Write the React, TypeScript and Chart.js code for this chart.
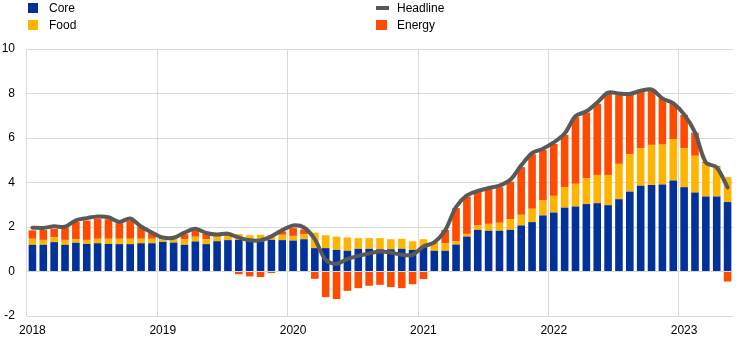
import React, { useEffect, useRef } from 'react';
import { Chart, registerables } from 'chart.js';

Chart.register(...registerables);

const years = ['2018', '2019', '2020', '2021', '2022', '2023'];
const monthsPerYear = 12;
const monthCount = 65; // Jan 2018 .. May 2023

const core = [
  1.20, 1.20, 1.32, 1.20, 1.29, 1.24, 1.27, 1.24, 1.23, 1.23, 1.27, 1.27,
  1.33, 1.30, 1.20, 1.35, 1.23, 1.36, 1.41, 1.42, 1.38, 1.35, 1.42, 1.41,
  1.39, 1.45, 1.05, 1.05, 0.97, 0.93, 1.02, 1.02, 1.00, 1.00, 1.02, 0.97,
  1.10, 0.93, 0.93, 1.21, 1.57, 1.87, 1.83, 1.83, 1.87, 2.07, 2.22, 2.52,
  2.65, 2.87, 2.92, 3.03, 3.07, 2.98, 3.25, 3.59, 3.85, 3.89, 3.91, 4.09,
  3.79, 3.55, 3.37, 3.37, 3.12,
];

const food = [
  0.27, 0.22, 0.22, 0.22, 0.16, 0.18, 0.20, 0.23, 0.24, 0.24, 0.20, 0.20,
  0.12, 0.15, 0.25, 0.21, 0.22, 0.21, 0.18, 0.26, 0.25, 0.30, 0.23, 0.24,
  0.21, 0.22, 0.70, 0.58, 0.60, 0.60, 0.48, 0.48, 0.50, 0.45, 0.45, 0.39,
  0.35, 0.32, 0.34, 0.15, 0.12, 0.20, 0.31, 0.36, 0.48, 0.48, 0.60, 0.67,
  0.75, 0.92, 1.02, 1.16, 1.27, 1.36, 1.59, 1.68, 1.69, 1.80, 1.79, 1.86,
  1.75, 1.65, 1.50, 1.32, 1.12,
];

const energy = [
  0.38, 0.45, 0.38, 0.56, 0.78, 0.87, 0.91, 0.88, 0.70, 0.82, 0.55, 0.30,
  0.05, 0.03, 0.23, 0.27, 0.24, 0.06, 0.08, -0.12, -0.22, -0.25, -0.07, 0.15,
  0.35, 0.22, -0.33, -1.15, -1.24, -0.87, -0.75, -0.64, -0.60, -0.70, -0.75, -0.57,
  -0.34, 0.05, 0.60, 1.49, 1.68, 1.52, 1.56, 1.60, 1.69, 2.14, 2.45, 2.27,
  2.33, 2.35, 3.00, 2.95, 3.20, 3.67, 3.09, 2.66, 2.54, 2.47, 2.09, 1.61,
  1.50, 1.04, 0.05, 0.05, -0.45,
];

const headline = [
  1.97, 1.96, 2.03, 2.01, 2.30, 2.40, 2.47, 2.44, 2.23, 2.38, 2.02, 1.75,
  1.53, 1.52, 1.75, 1.92, 1.73, 1.66, 1.70, 1.52, 1.40, 1.40, 1.58, 1.86,
  2.07, 1.98, 1.45, 0.52, 0.35, 0.56, 0.70, 0.81, 0.90, 0.85, 0.75, 0.75,
  1.12, 1.31, 1.85, 2.90, 3.42, 3.62, 3.75, 3.86, 4.12, 4.77, 5.32, 5.52,
  5.80, 6.20, 6.98, 7.20, 7.60, 8.04, 8.00, 7.98, 8.12, 8.18, 7.78, 7.56,
  7.06, 6.25, 4.90, 4.68, 3.78,
];

const yTicks = { min: -2, max: 10, step: 2 };

const labels: string[] = [];
for (let i = 0; i < monthCount; i++) {
  const y = years[Math.floor(i / monthsPerYear)];
  const m = (i % monthsPerYear) + 1;
  labels.push(`${y}-${m < 10 ? '0' + m : m}`);
}

const COLORS = {
  core: '#003299',
  food: '#FFB400',
  energy: '#FF4B00',
  headline: '#595959',
  grid: '#d9d9d9',
};

const FONT = '"Liberation Sans", Arial, sans-serif';

export default function App() {
  const canvasRef = useRef<HTMLCanvasElement | null>(null);

  useEffect(() => {
    if (!canvasRef.current) return;
    const chart = new Chart(canvasRef.current, {
      type: 'bar',
      data: {
        labels,
        datasets: [
          {
            type: 'line',
            label: 'Headline',
            data: headline,
            borderColor: COLORS.headline,
            backgroundColor: COLORS.headline,
            borderWidth: 4,
            pointRadius: 0,
            tension: 0.3,
            borderJoinStyle: 'round',
            borderCapStyle: 'round',
            stack: 'headline',
            order: 0,
          } as any,
          {
            label: 'Core',
            data: core,
            backgroundColor: COLORS.core,
            stack: 'main',
            order: 1,
          },
          {
            label: 'Food',
            data: food,
            backgroundColor: COLORS.food,
            stack: 'main',
            order: 1,
          },
          {
            label: 'Energy',
            data: energy,
            backgroundColor: COLORS.energy,
            stack: 'main',
            order: 1,
          },
        ],
      },
      options: {
        responsive: false,
        animation: false,
        layout: { padding: { top: 49, right: 9, left: 0, bottom: 0 } },
        datasets: {
          bar: { categoryPercentage: 1, barPercentage: 0.7 },
        },
        plugins: {
          legend: { display: false },
          tooltip: { enabled: false },
        },
        scales: {
          x: {
            type: 'category',
            stacked: true,
            offset: true,
            afterFit: (scale: any) => {
              scale.height = 26;
            },
            grid: {
              offset: true,
              drawTicks: false,
              lineWidth: 1,
              color: (ctx: any) =>
                ctx.tick && ctx.index % monthsPerYear === 0 ? COLORS.grid : 'rgba(0,0,0,0)',
            },
            border: { display: false },
            ticks: {
              autoSkip: false,
              maxRotation: 0,
              minRotation: 0,
              padding: 7,
              color: '#000',
              font: { family: FONT, size: 12 },
              callback: function (this: any, value: any, index: number) {
                const l = labels[index];
                return l && l.endsWith('-01') ? l.slice(0, 4) : '';
              },
            },
          },
          y: {
            stacked: true,
            min: yTicks.min,
            max: yTicks.max,
            afterFit: (scale: any) => {
              scale.width = 27;
            },
            grid: { color: COLORS.grid, drawTicks: false, lineWidth: 1 },
            border: { display: false },
            ticks: {
              stepSize: yTicks.step,
              padding: 12,
              color: '#000',
              font: { family: FONT, size: 12 },
            },
          },
        },
      },
    });
    return () => chart.destroy();
  }, []);

  const textStyle: React.CSSProperties = {
    position: 'absolute',
    fontFamily: FONT,
    fontSize: 12,
    lineHeight: '14px',
    color: '#000',
    whiteSpace: 'nowrap',
  };

  return (
    <div
      style={{
        position: 'fixed',
        left: 0,
        top: 0,
        width: 742,
        height: 342,
        background: '#fff',
        overflow: 'hidden',
      }}
    >
      <canvas
        ref={canvasRef}
        width={742}
        height={342}
        style={{ position: 'absolute', left: 0, top: 0, width: 742, height: 342, display: 'block' }}
      />
      <div style={{ position: 'absolute', left: 28, top: 3, width: 10, height: 10, background: COLORS.core }} />
      <div style={{ ...textStyle, left: 49, top: 1 }}>Core</div>
      <div style={{ position: 'absolute', left: 28, top: 20, width: 10, height: 10, background: COLORS.food }} />
      <div style={{ ...textStyle, left: 49, top: 18 }}>Food</div>
      <div style={{ position: 'absolute', left: 376, top: 6, width: 13, height: 4, background: COLORS.headline }} />
      <div style={{ ...textStyle, left: 397, top: 1 }}>Headline</div>
      <div style={{ position: 'absolute', left: 376, top: 20, width: 11, height: 10, background: COLORS.energy }} />
      <div style={{ ...textStyle, left: 397, top: 18 }}>Energy</div>
    </div>
  );
}
